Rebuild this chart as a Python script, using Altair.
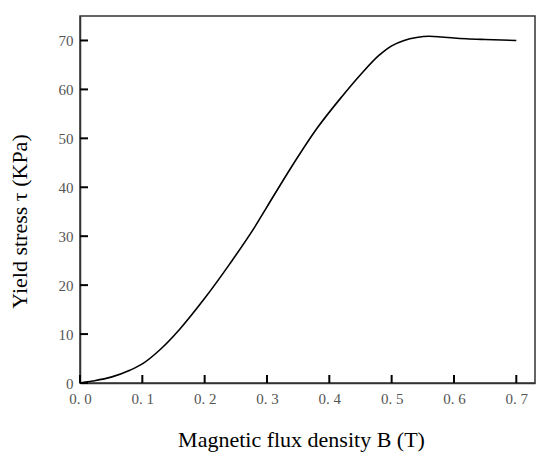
import altair as alt
import pandas as pd

# Curve data
B_values = [0, 0.02, 0.05, 0.08, 0.1, 0.13, 0.16, 0.2, 0.24, 0.28, 0.3, 0.34,
            0.38, 0.42, 0.45, 0.48, 0.5, 0.52, 0.54, 0.56, 0.58, 0.6, 0.62,
            0.65, 0.7]
tau_values = [0, 0.4, 1.2, 2.6, 3.9, 7.0, 11.0, 17.3, 24.3, 31.8, 36.0, 44.3,
              52.0, 58.5, 63.0, 67.0, 68.9, 70.0, 70.6, 70.85, 70.7, 70.5, 70.35,
              70.2, 70.0]

# Tick values
x_ticks = [0.0, 0.1, 0.2, 0.3, 0.4, 0.5, 0.6, 0.7]
y_ticks = [0, 10, 20, 30, 40, 50, 60, 70]

W, H = 455, 367
TICK_LEN = 8
AXIS_COLOR = "#333333"
LABEL_COLOR = "#555555"

df = pd.DataFrame({"B": B_values, "tau": tau_values})
xt = pd.DataFrame({"B": x_ticks})
yt = pd.DataFrame({"tau": y_ticks})

x_scale = alt.Scale(domain=[0, 0.73], nice=False, zero=False)
y_scale = alt.Scale(domain=[0, 75], nice=False)

x_axis = alt.Axis(
    values=x_ticks,
    labelExpr="replace(format(datum.value, '.1f'), '.', '. ')",
    ticks=False, grid=False,
    domainColor=AXIS_COLOR, domainWidth=1.5,
    labelFont="Liberation Serif", labelFontSize=15, labelColor=LABEL_COLOR,
    labelPadding=8, labelFlush=False,
    title="Magnetic flux density B (T)",
    titleFont="Liberation Serif", titleFontSize=22, titleFontWeight="normal",
    titleColor="black", titleX=221, titleY=63, titleBaseline="alphabetic",
)

y_axis = alt.Axis(
    values=y_ticks,
    ticks=False, grid=False,
    domainColor=AXIS_COLOR, domainWidth=1.5,
    labelFont="Liberation Serif", labelFontSize=15, labelColor=LABEL_COLOR,
    labelPadding=7, labelFlush=False,
    title="Yield stress τ (KPa)",
    titleFont="Liberation Serif", titleFontSize=22, titleFontWeight="normal",
    titleColor="black", titleX=-54, titleY=205, titleBaseline="alphabetic",
)

line = alt.Chart(df).mark_line(
    color="black", strokeWidth=1.6, interpolate="monotone"
).encode(
    x=alt.X("B:Q", scale=x_scale, axis=x_axis),
    y=alt.Y("tau:Q", scale=y_scale, axis=y_axis),
)

# Inward-pointing tick marks, positioned through the shared scales
xtick_marks = alt.Chart(xt).mark_rule(color="black", strokeWidth=2).encode(
    x=alt.X("B:Q", scale=x_scale),
    y=alt.value(H),
    y2=alt.value(H - TICK_LEN),
)

ytick_marks = alt.Chart(yt).mark_rule(color="black", strokeWidth=2).encode(
    y=alt.Y("tau:Q", scale=y_scale),
    x=alt.value(0),
    x2=alt.value(TICK_LEN),
)

chart = alt.layer(line, xtick_marks, ytick_marks).properties(
    width=W,
    height=H,
    autosize=alt.AutoSizeParams(type="none"),
    padding={"left": 72, "top": 8, "right": 7, "bottom": 72},
    background="white",
).configure_view(
    stroke=AXIS_COLOR,
    strokeWidth=1.5,
)

chart.save("out.html", embed_options={"renderer": "svg", "actions": False})
